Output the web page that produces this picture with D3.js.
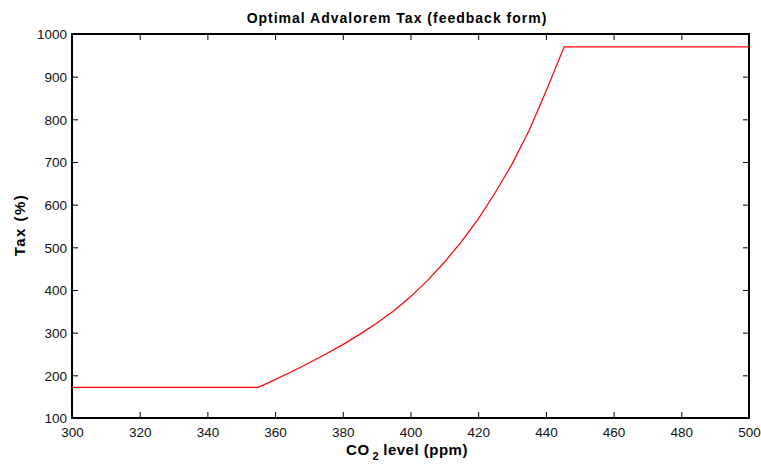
<!DOCTYPE html>
<html><head><meta charset="utf-8">
<script src="https://cdn.jsdelivr.net/npm/d3@7"></script>
<style>body{margin:0;background:#fff}svg{display:block}text{font-family:"Liberation Sans",Arial,sans-serif}</style>
</head><body><svg id="c" width="761" height="468"></svg>
<script>
const co2 = [300, 355, 360, 365, 370, 375, 380, 385, 390, 395, 400, 405, 410, 415, 420, 425, 430, 435, 440, 445.4, 500];
const tax = [172, 172, 190, 209, 229, 250, 272, 296, 322, 351, 384, 422, 465, 513, 566, 628, 695, 773, 865, 970, 970];
const xTicks = [300, 320, 340, 360, 380, 400, 420, 440, 460, 480, 500];
const yTicks = [100, 200, 300, 400, 500, 600, 700, 800, 900, 1000];

const svg = d3.select("#c");
const L = 72, R = 749, T = 34, B = 418;
const x = d3.scaleLinear().domain([300, 500]).range([L, R]);
const y = d3.scaleLinear().domain([100, 1000]).range([B, T]);

const tk = 6;
const gx = svg.append("g").attr("transform", `translate(0,${B})`)
  .call(d3.axisBottom(x).tickValues(xTicks).tickSize(-tk).tickPadding(9).tickFormat(d3.format("d")));
const gxt = svg.append("g").attr("transform", `translate(0,${T})`)
  .call(d3.axisTop(x).tickValues(xTicks).tickSize(-tk).tickFormat(""));
const gy = svg.append("g").attr("transform", `translate(${L},0)`)
  .call(d3.axisLeft(y).tickValues(yTicks).tickSize(-tk).tickPadding(5).tickFormat(d3.format("d")));
const gyr = svg.append("g").attr("transform", `translate(${R},0)`)
  .call(d3.axisRight(y).tickValues(yTicks).tickSize(-tk).tickFormat(""));
[gx, gxt, gy, gyr].forEach(g => {
  g.select(".domain").remove();
  g.selectAll(".tick line").attr("stroke", "#000").attr("stroke-width", 1);
  g.selectAll("text").attr("font-size", 13.5).attr("fill", "#111");
});
gy.selectAll("text").attr("dy", "0.35em");

svg.append("rect").attr("x", L).attr("y", T).attr("width", R - L).attr("height", B - T)
  .attr("fill", "none").attr("stroke", "#000").attr("stroke-width", 2);

const pts = co2.map((c, i) => [c, tax[i]]);
svg.append("path").datum(pts)
  .attr("fill", "none").attr("stroke", "#ff0000").attr("stroke-width", 1.2)
  .attr("d", d3.line().x(d => x(d[0])).y(d => y(d[1])));

svg.append("text").attr("x", 397).attr("y", 23).attr("text-anchor", "middle")
  .attr("font-size", 14).attr("font-weight", "bold").attr("letter-spacing", "1")
  .text("Optimal Advalorem Tax (feedback form)");

svg.append("text").attr("transform", "translate(25,225) rotate(-90)").attr("text-anchor", "middle")
  .attr("font-size", 15).attr("font-weight", "bold").attr("letter-spacing", "1.5").text("Tax (%)");

const xl = svg.append("text").attr("x", 407).attr("y", 455).attr("text-anchor", "middle")
  .attr("font-size", 15).attr("font-weight", "bold").attr("letter-spacing", "0.5");
xl.append("tspan").text("CO");
xl.append("tspan").attr("dy", 5).attr("font-size", 11).attr("dx", 3).text("2");
xl.append("tspan").attr("dy", -5).attr("dx", 4).text("level (ppm)");
</script></body></html>
